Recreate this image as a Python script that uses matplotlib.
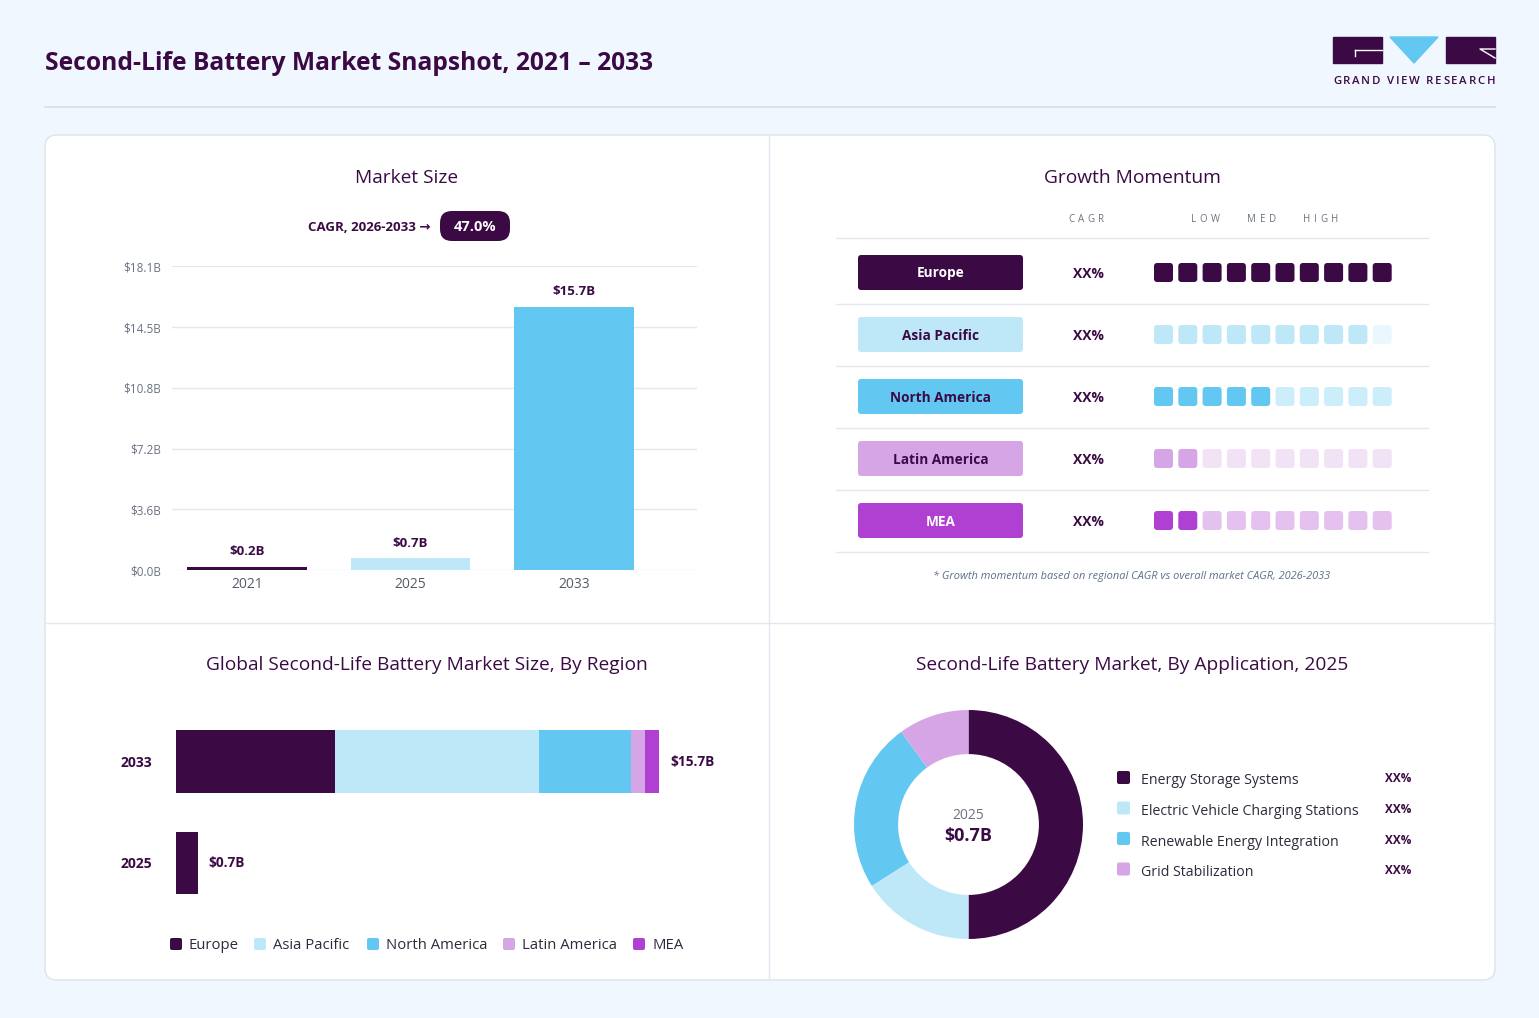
import matplotlib.pyplot as plt
from matplotlib.patches import FancyBboxPatch, Polygon
from matplotlib.font_manager import FontProperties
from matplotlib.textpath import TextToPath

plt.rcParams['font.family'] = ['Open Sans', 'DejaVu Sans']

W, H = 1539, 1018

# colours
DARK = '#3b0a45'
LIGHT_BLUE = '#bee8f8'
SKY = '#62c8f2'
LAVENDER = '#d6a5e6'
VIOLET = '#b040d2'
PAGE = '#f0f7fe'
LINE = '#e3e7ef'
MUTED = '#6b7280'

# market size
years = ['2021', '2025', '2033']
market_size = [0.2, 0.7, 15.7]
size_colors = [DARK, LIGHT_BLUE, SKY]
size_labels = ['$0.2B', '$0.7B', '$15.7B']
y_tick_labels = ['$0.0B', '$3.6B', '$7.2B', '$10.8B', '$14.5B', '$18.1B']
y_max = 18.1
cagr_text = 'CAGR, 2026-2033 \u2192'
cagr_value = '47.0%'

# growth momentum
regions = ['Europe', 'Asia Pacific', 'North America', 'Latin America', 'MEA']
region_colors = [DARK, LIGHT_BLUE, SKY, LAVENDER, VIOLET]
region_text_colors = ['white', DARK, DARK, DARK, 'white']
region_cagr = ['XX%', 'XX%', 'XX%', 'XX%', 'XX%']
momentum_filled = [10, 9, 5, 2, 2]
momentum_levels = 10

# market size by region (2033, 2025)
stack_years = ['2033', '2025']
europe = [5.18, 0.7]
asia_pacific = [6.62, 0.0]
north_america = [2.99, 0.0]
latin_america = [0.455, 0.0]
mea = [0.455, 0.0]
stack_totals = ['$15.7B', '$0.7B']

# application split 2025
applications = ['Energy Storage Systems', 'Electric Vehicle Charging Stations',
                'Renewable Energy Integration', 'Grid Stabilization']
app_share = [50, 16, 24, 10]
app_colors = [DARK, LIGHT_BLUE, SKY, LAVENDER]
app_labels = ['XX%', 'XX%', 'XX%', 'XX%']

fig = plt.figure(figsize=(W / 100, H / 100), dpi=100)
fig.patch.set_facecolor(PAGE)

bg = fig.add_axes([0, 0, 1, 1])
bg.set_xlim(0, W)
bg.set_ylim(H, 0)
bg.axis('off')

ttp = TextToPath()


def spaced(x, y, s, size, color, weight='normal', width=None, gap=2.0, ha='center'):
    # draw text letter by letter so it can be tracked out
    prop = FontProperties(family=['Open Sans'], size=size, weight=weight)
    ws = [ttp.get_text_width_height_descent(c, prop, ismath=False)[0] * 100 / 72 for c in s]
    if width is not None:
        gap = (width - sum(ws)) / (len(s) - 1)
    total = sum(ws) + gap * (len(s) - 1)
    x0 = x - total / 2 if ha == 'center' else x
    for c, w in zip(s, ws):
        bg.text(x0, y, c, fontproperties=prop, color=color, ha='left', va='center')
        x0 += w + gap


def px_axes(x0, y0, x1, y1):
    a = fig.add_axes([x0 / W, 1 - y1 / H, (x1 - x0) / W, (y1 - y0) / H])
    a.set_facecolor('none')
    return a


# header
bg.text(45, 63, 'Second-Life Battery Market Snapshot, 2021 \u2013 2033', fontsize=17.7,
        fontweight='bold', color=DARK, ha='left', va='center')
bg.plot([45, 1495], [107, 107], color='#d8dde6', lw=1.2)

# logo
bg.add_patch(plt.Rectangle((1333, 37), 49, 26, color=DARK))
bg.add_patch(Polygon([(1390, 37), (1438, 37), (1414, 63)], closed=True, color=SKY))
bg.add_patch(plt.Rectangle((1446, 37), 49, 26, color=DARK))
bg.plot([1355, 1382], [50, 50], color='white', lw=1)
bg.plot([1355, 1355], [50, 56], color='white', lw=1)
bg.plot([1495, 1480, 1495], [49, 49, 58], color='white', lw=1)
spaced(1414, 81, 'GRAND VIEW RESEARCH', 8.2, DARK, weight='semibold', width=162)

# card
bg.add_patch(FancyBboxPatch((45, 135), 1450, 845, boxstyle='round,pad=0,rounding_size=12',
                            facecolor='white', edgecolor='#dde3ec', lw=1))
bg.plot([769, 769], [136, 979], color=LINE, lw=1)
bg.plot([46, 1494], [623, 623], color=LINE, lw=1)

# panel titles
title_kw = dict(fontsize=13.8, color=DARK, ha='center', va='center', fontweight='medium')
bg.text(407, 178, 'Market Size', **title_kw)
bg.text(1132, 178, 'Growth Momentum', **title_kw)
bg.text(427, 665, 'Global Second-Life Battery Market Size, By Region', **title_kw)
bg.text(1132, 665, 'Second-Life Battery Market, By Application, 2025', **title_kw)

# ---- market size bars
bg.text(430, 227, cagr_text, fontsize=9.5, fontweight='bold', color=DARK, ha='right', va='center')
bg.add_patch(FancyBboxPatch((440, 211), 70, 30, boxstyle='round,pad=0,rounding_size=12',
                            facecolor=DARK, edgecolor='none'))
bg.text(475, 227, cagr_value, fontsize=10.5, fontweight='bold', color='white', ha='center', va='center')

ax1 = px_axes(172, 266.4, 697, 570)
xs = range(len(years))
ax1.bar(xs, market_size, width=0.73, color=size_colors, zorder=2)
for i, v in enumerate(market_size):
    ax1.annotate(size_labels[i], (i, v), xytext=(0, 6), textcoords='offset points',
                 ha='center', va='bottom', fontsize=9.5, fontweight='bold', color=DARK)
ax1.set_ylim(0, y_max)
ax1.set_xlim(-0.459, 2.752)
ticks = [y_max * k / 5 for k in range(6)]
ax1.set_yticks(ticks)
ax1.set_yticklabels(y_tick_labels)
ax1.set_xticks(list(xs))
ax1.set_xticklabels(years)
ax1.tick_params(axis='y', length=0, pad=8, labelsize=8.5, labelcolor=MUTED)
ax1.tick_params(axis='x', length=0, pad=5, labelsize=10, labelcolor='#555b66')
ax1.grid(axis='y', color=LINE, lw=1, zorder=0)
for sp in ax1.spines.values():
    sp.set_visible(False)

# ---- growth momentum table
spaced(1086, 219, 'CAGR', 7, MUTED, width=36)
spaced(1205, 219, 'LOW', 7, MUTED, width=29)
spaced(1262, 219, 'MED', 7, MUTED, width=29)
spaced(1321, 219, 'HIGH', 7, MUTED, width=35)
bg.plot([836, 1428], [237.5, 237.5], color=LINE, lw=1)
for r, name in enumerate(regions):
    cy = 272.5 + 62 * r
    bg.add_patch(FancyBboxPatch((858, cy - 17.5), 165, 35, boxstyle='round,pad=0,rounding_size=3',
                                facecolor=region_colors[r], edgecolor='none'))
    bg.text(940.5, cy + 1, name, fontsize=9.8, fontweight='bold', color=region_text_colors[r],
            ha='center', va='center')
    bg.text(1088, cy + 1, region_cagr[r], fontsize=10, fontweight='bold', color=DARK,
            ha='center', va='center')
    for k in range(momentum_levels):
        on = k < momentum_filled[r]
        bg.add_patch(FancyBboxPatch((1154 + 24.3 * k, cy - 9.5), 19, 19,
                                    boxstyle='round,pad=0,rounding_size=3',
                                    facecolor=region_colors[r], edgecolor='none',
                                    alpha=1.0 if on else 0.32))
    bg.plot([836, 1428], [cy + 31, cy + 31], color=LINE, lw=1)
bg.text(1132, 576, '* Growth momentum based on regional CAGR vs overall market CAGR, 2026-2033',
        fontsize=7.9, style='italic', color='#5f6f8a', ha='center', va='center')

# ---- stacked bars by region
ax2 = px_axes(176, 700, 720, 925)
ys = range(len(stack_years))
left = [0.0, 0.0]
series = [('Europe', europe, DARK), ('Asia Pacific', asia_pacific, LIGHT_BLUE),
          ('North America', north_america, SKY), ('Latin America', latin_america, LAVENDER),
          ('MEA', mea, VIOLET)]
for name, vals, col in series:
    ax2.barh(ys, vals, left=left, height=0.62, color=col, label=name)
    left = [a + b for a, b in zip(left, vals)]
for i, tot in enumerate(left):
    ax2.annotate(stack_totals[i], (tot, i), xytext=(8, 0), textcoords='offset points',
                 ha='left', va='center', fontsize=9.8, fontweight='bold', color=DARK)
ax2.set_xlim(0, 544 / 30.75)
ax2.set_ylim(1.611, -0.606)
ax2.set_yticks(list(ys))
ax2.set_yticklabels(stack_years, fontweight='bold', color=DARK)
ax2.tick_params(axis='y', length=0, pad=17, labelsize=10)
ax2.set_xticks([])
for sp in ax2.spines.values():
    sp.set_visible(False)

leg_x = [170, 254, 367, 503, 633]
for (name, vals, col), lx in zip(series, leg_x):
    bg.add_patch(FancyBboxPatch((lx, 938), 12, 12, boxstyle='round,pad=0,rounding_size=2',
                                facecolor=col, edgecolor='none'))
    bg.text(lx + 19, 945.5, name, fontsize=10.7, color='#2e2a3a', ha='left', va='center')

# ---- donut
R = 114.5
ax3 = px_axes(968.5 - 1.2 * R, 824.5 - 1.2 * R, 968.5 + 1.2 * R, 824.5 + 1.2 * R)
ax3.pie(app_share, colors=app_colors, startangle=90, counterclock=False,
        wedgeprops=dict(width=0.385, linewidth=0))
ax3.set_xlim(-1.2, 1.2)
ax3.set_ylim(-1.2, 1.2)
ax3.text(0, 0.08, '2025', fontsize=10, color=MUTED, ha='center', va='center')
ax3.text(0, -0.1, '$0.7B', fontsize=13, fontweight='bold', color=DARK, ha='center', va='center')

for i, name in enumerate(applications):
    cy = 778 + 30.5 * i
    bg.add_patch(FancyBboxPatch((1117, cy - 7), 13, 13, boxstyle='round,pad=0,rounding_size=2',
                                facecolor=app_colors[i], edgecolor='none'))
    bg.text(1141, cy + 3, name, fontsize=10.2, color='#2e2a3a', ha='left', va='center')
    bg.text(1398, cy + 1, app_labels[i], fontsize=8.5, fontweight='bold', color=DARK,
            ha='center', va='center')

fig.savefig('out.png', dpi=100, facecolor=PAGE)
